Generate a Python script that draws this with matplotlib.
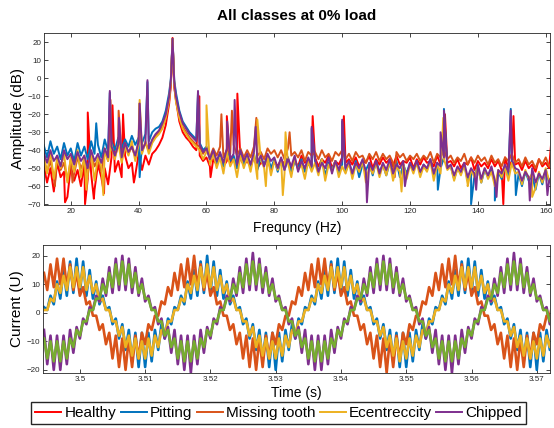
import numpy as np
import matplotlib.pyplot as plt

plt.rcParams['font.family'] = ['Liberation Sans', 'DejaVu Sans']

classes = ['Healthy', 'Pitting', 'Missing tooth', 'Ecentreccity', 'Chipped']
colors = ['#FF0000', '#0072BD', '#D95319', '#EDB120', '#7E2F8E']

# spectrum, 1 Hz bins from 12 to 162 Hz (dB)
freq = np.arange(12, 163)

healthy_db = [
    -48, -58, -50, -63, -47, -55, -52, -66, -49, -57,
    -51, -60, -47, -56, -53, -62, -48, -55, -50, -59,
    -44, -52, -46, -55, -43, -50, -47, -54, -42, -51,
    -43, -48, -42, -40, -37, -33, -26, -14, 22.5, -12,
    -24, -30, -33, -35, -38, -40, -43, -46, -44, -49,
    -45, -48, -43, -49, -46, -47, -44, -50, -45, -48,
    -46, -49, -44, -50, -47, -48, -45, -51, -46, -49,
    -45, -48, -44, -50, -46, -49, -43, -47, -45, -48,
    -44, -49, -45, -47, -43, -50, -46, -48, -44, -47,
    -45, -48, -44, -49, -46, -47, -43, -50, -45, -48,
    -44, -47, -45, -49, -43, -48, -46, -47, -44, -50,
    -45, -48, -44, -47, -46, -49, -43, -48, -45, -47,
    -46, -49, -45, -50, -47, -48, -44, -51, -46, -49,
    -47, -50, -45, -49, -46, -51, -44, -50, -46, -48,
    -47, -51, -46, -50, -48, -52, -45, -49, -47, -50,
    -42]
pitting_db = [
    -37, -44, -35, -42, -38, -45, -36, -43, -39, -46,
    -36, -43, -38, -45, -35, -42, -37, -44, -34, -41,
    -35, -40, -33, -39, -34, -38, -32, -37, -33, -36,
    -31, -35, -30, -28, -27, -24, -18, -8, 22, -8,
    -18, -24, -27, -30, -32, -34, -36, -40, -38, -45,
    -41, -47, -42, -49, -40, -46, -43, -50, -41, -48,
    -43, -49, -42, -51, -44, -48, -43, -50, -45, -52,
    -45, -51, -44, -53, -46, -50, -45, -52, -47, -51,
    -46, -52, -45, -54, -47, -51, -46, -53, -48, -52,
    -47, -53, -46, -55, -48, -51, -47, -54, -46, -52,
    -48, -54, -47, -52, -46, -55, -48, -53, -47, -51,
    -46, -53, -48, -51, -45, -54, -47, -50, -44, -49,
    -49, -56, -50, -53, -48, -57, -51, -54, -49, -58,
    -51, -55, -50, -58, -52, -56, -49, -54, -46, -52,
    -53, -60, -52, -57, -54, -62, -53, -59, -51, -58,
    -55]
missing_db = [
    -44, -52, -46, -55, -43, -51, -47, -57, -45, -53,
    -44, -50, -46, -54, -42, -49, -45, -52, -40, -46,
    -39, -44, -37, -43, -36, -42, -38, -44, -35, -41,
    -36, -40, -35, -32, -30, -27, -22, -12, 22, -12,
    -21, -27, -30, -33, -35, -37, -38, -42, -39, -44,
    -39, -43, -38, -44, -40, -42, -37, -43, -39, -44,
    -40, -44, -38, -43, -41, -45, -39, -42, -40, -44,
    -40, -45, -39, -43, -41, -44, -40, -46, -41, -43,
    -41, -45, -40, -44, -42, -46, -41, -43, -40, -45,
    -42, -46, -41, -44, -43, -47, -42, -45, -41, -46,
    -42, -45, -43, -47, -41, -44, -42, -46, -43, -45,
    -42, -46, -43, -45, -41, -47, -42, -44, -40, -45,
    -43, -47, -44, -46, -42, -48, -44, -47, -43, -46,
    -44, -48, -43, -47, -45, -49, -44, -46, -42, -47,
    -45, -49, -44, -48, -46, -50, -45, -48, -44, -49,
    -46]
ecc_db = [
    -43, -53, -41, -56, -45, -50, -42, -58, -44, -52,
    -40, -55, -43, -51, -41, -57, -44, -49, -39, -46,
    -37, -45, -36, -47, -38, -43, -35, -46, -37, -42,
    -35, -42, -36, -33, -31, -28, -22, -12, 22, -13,
    -22, -28, -31, -34, -36, -38, -40, -45, -41, -48,
    -42, -50, -44, -53, -41, -49, -45, -55, -43, -50,
    -44, -52, -42, -56, -45, -50, -43, -54, -46, -51,
    -45, -53, -47, -55, -44, -51, -48, -56, -46, -52,
    -47, -54, -45, -57, -48, -52, -46, -55, -49, -53,
    -47, -56, -48, -52, -46, -58, -49, -53, -47, -55,
    -48, -54, -46, -57, -49, -52, -47, -56, -48, -53,
    -47, -55, -49, -52, -46, -57, -48, -53, -45, -51,
    -49, -57, -50, -54, -48, -59, -51, -55, -49, -58,
    -50, -56, -52, -60, -51, -55, -49, -57, -47, -53,
    -52, -59, -51, -56, -53, -61, -52, -58, -50, -57,
    -54]
chipped_db = [
    -41, -47, -40, -46, -43, -49, -40, -45, -42, -48,
    -41, -46, -43, -50, -40, -46, -42, -47, -39, -44,
    -38, -43, -37, -44, -36, -41, -38, -43, -35, -40,
    -36, -39, -34, -31, -29, -25, -20, -10, 22, -10,
    -19, -25, -28, -31, -33, -35, -37, -41, -39, -45,
    -40, -46, -41, -47, -39, -45, -42, -48, -40, -46,
    -42, -48, -41, -47, -43, -49, -42, -46, -44, -50,
    -44, -51, -45, -49, -43, -52, -46, -50, -44, -49,
    -45, -52, -47, -50, -44, -53, -46, -51, -45, -50,
    -46, -53, -47, -50, -45, -52, -47, -51, -46, -53,
    -47, -51, -45, -53, -48, -50, -46, -54, -47, -51,
    -46, -52, -48, -50, -45, -53, -47, -49, -44, -50,
    -48, -54, -49, -52, -47, -55, -50, -53, -48, -56,
    -50, -54, -49, -57, -51, -53, -48, -52, -45, -50,
    -51, -57, -52, -55, -50, -58, -53, -56, -51, -57,
    -54]

# narrow spikes and dips between the bins
healthy_pk_f = [18.3, 24.2, 25.0, 26.8, 29.8, 32.3, 35.4, 38.6, 49.5, 50.5,
                57.9, 61.2, 66.0, 69.1, 91.3, 100.5, 130.3, 147.5, 150.5, 161.6]
healthy_pk_db = [-69, -70, -19, -67, -64, -15, -20, -58, -4, -5,
                 -10, -55, -21, -8.5, -21, -21, -20, -70, -21, -36]
pitting_pk_f = [27.5, 31.5, 40.3, 42.6, 49.5, 50.5, 57.5, 91.0, 100.0, 128.2,
                130.0, 138.0, 145.0, 149.7, 151.2]
pitting_pk_db = [-25, -8, -55, -2, 0, -1, -8, -28, -24, -62,
                 -17, -70, -68, -17, -65]
missing_pk_f = [15.3, 20.5, 31.7, 34.1, 40.2, 49.5, 50.5, 64.4, 67.5, 74.7, 84.5, 115.5]
missing_pk_db = [-60, -58, -12, -18, -14, -3, -4, -20, -18, -22, -30, -55]
ecc_pk_f = [24.6, 29.6, 40.3, 49.5, 50.5, 60.0, 75.0, 77.5, 82.5, 83.3,
            117.5, 129.8, 137.0, 156.0]
ecc_pk_db = [-62, -65, -12, -2, -3, -15, -23, -60, -65, -30,
             -63, -22, -60, -66]
chipped_pk_f = [31.5, 34.2, 40.3, 42.6, 49.5, 50.5, 57.5, 66.1, 68.3, 74.5,
                91.0, 100.0, 107.3, 118.5, 129.0, 130.0, 139.5, 145.5, 149.7, 155.3, 160.5]
chipped_pk_db = [-7, -22, -14, -1, -1, -2, -7, -24, -12, -27,
                 -27, -23, -69, -60, -30, -18, -62, -66, -18, -68, -65]

spec_floor = [healthy_db, pitting_db, missing_db, ecc_db, chipped_db]
spec_pk_f = [healthy_pk_f, pitting_pk_f, missing_pk_f, ecc_pk_f, chipped_pk_f]
spec_pk_db = [healthy_pk_db, pitting_pk_db, missing_pk_db, ecc_pk_db, chipped_pk_db]

# current signals, sampled every 0.5 ms from 3.4945 s
t = 3.4945 + 0.0005 * np.arange(157)

cur_blue = [
    2, 1, 6, 3, 11, 5, 15, 6, 18, 7, 19, 7, 18, 6, 15, 5, 11, 3, 6, 1,
    2, -4, -2, -9, -4, -13, -6, -17, -7, -19, -7, -19, -7, -17, -6, -13, -4, -9, -2, -4,
    2, 1, 6, 3, 11, 5, 15, 6, 18, 7, 20, 7, 18, 6, 15, 5, 11, 3, 6, 1,
    2, -4, -2, -9, -4, -13, -6, -17, -7, -19, -7, -20, -7, -17, -6, -13, -4, -9, -2, -4,
    2, 1, 6, 3, 11, 5, 15, 6, 18, 7, 19, 7, 18, 6, 15, 5, 11, 3, 6, 1,
    2, -4, -2, -9, -4, -13, -6, -17, -7, -19, -7, -19, -7, -17, -6, -13, -4, -9, -2, -4,
    2, 1, 6, 3, 11, 5, 15, 6, 18, 7, 19, 7, 18, 6, 15, 5, 11, 3, 6, 1,
    2, -4, -2, -9, -4, -13, -6, -17, -7, -19, -7, -20, -7, -17, -6, -13, -4]
cur_orange = [
    14, 8, 17, 9, 19, 10, 19, 9, 17, 8, 14, 6, 9, 3, 4,
    -1, -1, -6, -4, -11, -7, -16, -8, -19, -9, -20, -9, -19, -8, -16, -7, -11, -4, -6, -1,
    -1, 4, 3, 9, 6, 14, 8, 17, 9, 19, 10, 20, 9, 17, 8, 14, 6, 9, 3, 4,
    -1, -1, -6, -4, -11, -7, -16, -8, -19, -9, -20, -9, -19, -8, -16, -7, -11, -4, -6, -1,
    -1, 4, 3, 9, 6, 14, 8, 17, 9, 19, 10, 19, 9, 17, 8, 14, 6, 9, 3, 4,
    -1, -1, -6, -4, -11, -7, -16, -8, -19, -9, -21, -9, -19, -8, -16, -7, -11, -4, -6, -1,
    -1, 4, 3, 9, 6, 14, 8, 17, 9, 19, 10, 20, 9, 17, 8, 14, 6, 9, 3, 4,
    -1, -1, -6, -4, -11, -7, -16, -8, -19, -9, -20, -9, -19, -8, -16, -7, -11, -4, -6, -1,
    -1, 4]
cur_yellow = [
    1, 1, 5, 4, 10, 7, 13, 8, 16, 9, 16, 9, 16, 8, 13, 7, 10, 4, 5, 1,
    1, -3, -3, -8, -5, -12, -8, -15, -9, -16, -10, -16, -9, -15, -8, -12, -6, -8, -3, -3,
    1, 1, 5, 4, 10, 7, 13, 8, 16, 9, 17, 9, 16, 8, 13, 7, 10, 4, 5, 1,
    1, -3, -3, -8, -5, -12, -8, -15, -9, -16, -10, -16, -9, -15, -8, -12, -6, -8, -3, -3,
    1, 1, 5, 4, 10, 7, 13, 8, 16, 9, 16, 9, 16, 8, 13, 7, 10, 4, 5, 1,
    1, -3, -3, -8, -5, -12, -8, -15, -9, -17, -10, -16, -9, -15, -8, -12, -6, -8, -3, -3,
    1, 1, 5, 4, 10, 7, 13, 8, 16, 9, 16, 9, 16, 8, 13, 7, 10, 4, 5, 1,
    1, -3, -3, -8, -5, -12, -8, -15, -9, -16, -10, -16, -9, -15, -8, -12, -6]
cur_purple = [
    -6, -18, -8, -20, -8, -20, -8, -18, -6, -14, -5, -9, -2, -4,
    2, 1, 6, 4, 12, 6, 16, 7, 19, 8, 20, 8, 19, 7, 16, 6, 12, 4, 6, 1,
    2, -4, -2, -9, -5, -14, -6, -18, -8, -20, -8, -21, -8, -18, -6, -14, -5, -9, -2, -4,
    2, 1, 6, 4, 12, 6, 16, 7, 19, 8, 21, 8, 19, 7, 16, 6, 12, 4, 6, 1,
    2, -4, -2, -9, -5, -14, -6, -18, -8, -20, -8, -20, -8, -18, -6, -14, -5, -9, -2, -4,
    2, 1, 6, 4, 12, 6, 16, 7, 19, 8, 20, 8, 19, 7, 16, 6, 12, 4, 6, 1,
    2, -4, -2, -9, -5, -14, -6, -18, -8, -20, -8, -21, -8, -18, -6, -14, -5, -9, -2, -4,
    2, 1, 6, 4, 12, 6, 16, 7, 19, 8, 21, 8, 19, 7, 16, 6, 12, 4, 6, 1,
    2, -4, -2]
cur_green = [
    -9, -16, -10, -17, -10, -17, -10, -16, -9, -12, -6, -8, -3, -3,
    1, 1, 5, 5, 10, 7, 14, 9, 17, 10, 18, 10, 17, 9, 14, 7, 10, 5, 5, 1,
    1, -3, -3, -8, -6, -12, -9, -16, -10, -17, -10, -17, -10, -16, -9, -12, -6, -8, -3, -3,
    1, 1, 5, 5, 10, 7, 14, 9, 17, 10, 18, 10, 17, 9, 14, 7, 10, 5, 5, 1,
    1, -3, -3, -8, -6, -12, -9, -16, -10, -17, -10, -17, -10, -16, -9, -12, -6, -8, -3, -3,
    1, 1, 5, 5, 10, 7, 14, 9, 17, 10, 18, 10, 17, 9, 14, 7, 10, 5, 5, 1,
    1, -3, -3, -8, -6, -12, -9, -16, -10, -17, -10, -17, -10, -16, -9, -12, -6, -8, -3, -3,
    1, 1, 5, 5, 10, 7, 14, 9, 17, 10, 18, 10, 17, 9, 14, 7, 10, 5, 5, 1,
    1, -3, -3]

cur_series = [cur_blue, cur_orange, cur_yellow, cur_purple, cur_green]
cur_colors = ['#0072BD', '#D95319', '#EDB120', '#7E2F8E', '#77AC30']

fig = plt.figure(figsize=(5.54, 4.28), dpi=100)
ax1 = fig.add_axes([0.0794, 0.521, 0.913, 0.403])
ax2 = fig.add_axes([0.0782, 0.1285, 0.9143, 0.2991])

lines = []
for floor, pf, pd_, c, name in zip(spec_floor, spec_pk_f, spec_pk_db, colors, classes):
    f = np.concatenate([freq, pf])
    a = np.concatenate([floor, pd_])
    order = np.argsort(f, kind='stable')
    ln, = ax1.plot(f[order], a[order], color=c, lw=1.4, label=name)
    lines.append(ln)

ax1.set_xlim(12.1, 161.2)
ax1.set_ylim(-70.5, 25.5)
ax1.set_xticks(np.arange(20, 161, 20))
ax1.set_yticks(np.arange(-70, 21, 10))
ax1.set_title('All classes at 0% load', fontsize=11, fontweight='bold', pad=9)
ax1.set_xlabel('Frequncy (Hz)', fontsize=10)
ax1.set_ylabel('Amplitude (dB)', fontsize=11)
ax1.xaxis.set_label_coords(0.5, -0.095)
ax1.yaxis.set_label_coords(-0.038, 0.5)

for y, c in zip(cur_series, cur_colors):
    ax2.plot(t, y, color=c, lw=1.9)

ax2.set_xlim(3.4944, 3.5720)
ax2.set_ylim(-21.1, 23.8)
xt = [3.50, 3.51, 3.52, 3.53, 3.54, 3.55, 3.56, 3.57]
ax2.set_xticks(xt)
ax2.set_xticklabels(['3.5', '3.51', '3.52', '3.53', '3.54', '3.55', '3.56', '3.57'])
ax2.set_yticks([-20, -10, 0, 10, 20])
ax2.set_xlabel('Time (s)', fontsize=10)
ax2.set_ylabel('Current (U)', fontsize=11)
ax2.xaxis.set_label_coords(0.5, -0.1)
ax2.yaxis.set_label_coords(-0.038, 0.5)

for ax in (ax1, ax2):
    ax.tick_params(direction='in', top=True, right=True, length=3, width=0.6,
                   labelsize=5.8, colors='#262626', pad=2)
    for s in ax.spines.values():
        s.set_color('#262626')
        s.set_linewidth(0.6)

fig.legend(handles=lines, loc='center', bbox_to_anchor=(0.503, 0.035), ncol=5,
           fontsize=11, handlelength=1.7, handletextpad=0.2, columnspacing=0.3,
           borderpad=0.25, fancybox=False, edgecolor='#262626', framealpha=1)

fig.savefig('out.png', dpi=100)
